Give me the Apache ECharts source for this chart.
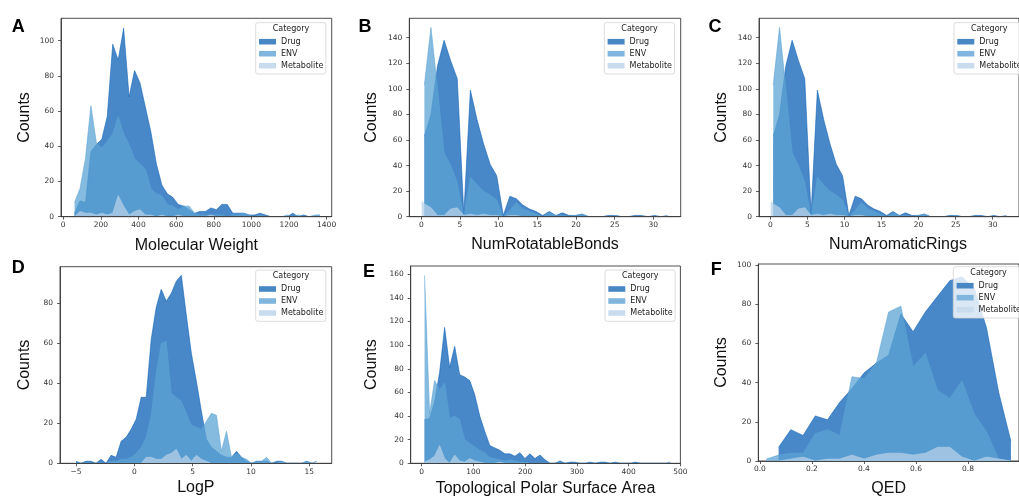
<!DOCTYPE html>
<html>
<head>
<meta charset="utf-8">
<script src="https://cdn.jsdelivr.net/npm/echarts@6/dist/echarts.min.js"></script>
<style>
  html, body { margin: 0; padding: 0; background: #ffffff; }
  #chart { width: 1019px; height: 499px; }
</style>
</head>
<body>
<div id="chart"></div>
<script>
// ---- categories ----
const categories = ['Drug', 'ENV', 'Metabolite'];

// ---- Molecular Weight (bin centres and counts) ----
const mwBins = [60, 89, 118, 147, 176, 205, 234, 263, 292, 321, 350, 379, 408, 437, 466, 495, 524, 553, 582, 611,
  640, 669, 698, 727, 756, 785, 814, 843, 872, 901, 930, 959, 988, 1017, 1046, 1075, 1104, 1133, 1162, 1191,
  1220, 1249, 1278, 1307, 1336, 1365];
const mwDrug = [2, 9, 8, 37, 41, 44, 57, 98, 89, 107, 68, 83, 76, 62, 48, 30, 18, 13, 11, 7,
  6, 4, 2, 3, 3, 5, 4, 7, 7, 2, 2, 2, 1, 1, 2, 1, 0, 0, 0, 0,
  2, 0, 1, 0, 0, 1];
const mwEnv = [8, 16, 33, 63, 42, 39, 43, 47, 57, 47, 41, 33, 30, 27, 16, 13, 12, 7, 6, 4,
  6, 6, 2, 1, 1, 1, 1, 1, 0, 1, 1, 2, 1, 0, 1, 0, 0, 0, 0, 1,
  0, 1, 0, 0, 1, 1];
const mwMet = [0, 3, 2, 2, 1, 2, 1, 2, 12, 6, 1, 3, 4, 1, 1, 0, 1, 0, 0, 1,
  0, 0, 0, 0, 0, 1, 0, 0, 0, 0, 0, 0, 0, 0, 0, 0, 0, 0, 0, 0,
  0, 0, 0, 0, 0, 0];

// ---- NumRotatableBonds ----
const rbBins = [0.05, 0.4, 1.25, 2.1, 2.95, 3.8, 4.65, 5.5, 6.35, 7.2, 8.05, 8.9, 9.75, 10.6, 11.45, 12.3, 13.15, 14.0, 14.85, 15.7, 16.55,
  17.4, 18.25, 19.1, 19.95, 20.8, 21.65, 22.5, 23.35, 24.2, 25.05, 25.9, 26.75, 27.6, 28.45, 29.3, 30.15, 31.0, 31.85];
const rbDrug = [null, 63, 80, 118, 138, 122, 108, 2, 99, 76, 57, 41, 32, 1, 16, 14, 9, 6, 4, 1, 4,
  1, 3, 1, 1, 2, 0, 0, 0, 1, 1, 0, 0, 1, 1, 0, 1, 0, 1];
const rbEnv = [null, 103, 148, 100, 50, 40, 27, 0, 31, 25, 20, 17, 13, 0, 5, 11, 6, 4, 2, 0, 3,
  1, 1, 0, 1, 2, 0, 0, 0, 0, 1, 0, 0, 0, 0, 0, 0, 0, 0];
const rbMet = [12, 10, 7, 1, 1, 6, 7, 1, 2, 1, 2, 1, 1, 0, 1, 1, 0, 0, 0, 0, 0,
  0, 0, 0, 0, 0, 0, 0, 0, 0, 0, 0, 0, 0, 0, 0, 0, 0, 0];

// ---- NumAromaticRings (same counts as the rotatable-bond panel) ----
const arBins = rbBins;
const arDrug = rbDrug;
const arEnv = rbEnv;
const arMet = rbMet;

// ---- LogP ----
const lpBins = [-5.0, -4.57, -4.14, -3.71, -3.28, -2.85, -2.42, -1.99, -1.56, -1.13, -0.70, -0.27, 0.16, 0.59, 1.02, 1.45, 1.88,
  2.31, 2.74, 3.17, 3.60, 4.03, 4.46, 4.89, 5.32, 5.75, 6.18, 6.61, 7.04, 7.47, 7.90, 8.33, 8.76, 9.19, 9.62,
  10.05, 10.48, 10.91, 11.34, 11.77, 12.20, 12.63, 13.06, 13.49, 13.92, 14.35, 14.78, 15.21, 15.64];
const lpDrug = [1, 0, 1, 1, 0, 2, 0, 4, 3, 11, 13, 17, 22, 33, 33, 62, 78,
  87, 81, 85, 91, 94, 74, 55, 41, 26, 12, 8, 6, 4, 3, 3, 6, 3, 1,
  0, 1, 1, 1, 0, 1, 1, 0, 0, 0, 0, 1, 0, 1];
const lpEnv = [0, 0, 0, 0, 0, 0, 0, 1, 1, 2, 2, 3, 5, 8, 13, 24, 45,
  60, 61, 35, 33, 31, 25, 19, 18, 17, 21, 25, 24, 6, 16, 3, 5, 3, 2,
  0, 1, 1, 3, 0, 0, 1, 0, 0, 0, 0, 1, 0, 0];
const lpMet = [0, 0, 0, 0, 0, 0, 0, 0, 0, 0, 0, 0, 0, 0, 3, 3, 2,
  2, 4, 5, 7, 2, 4, 1, 4, 2, 1, 0, 0, 0, 0, 0, 0, 0, 0,
  0, 0, 0, 0, 0, 0, 0, 0, 0, 0, 0, 0, 0, 0];

// ---- Topological Polar Surface Area ----
const tpBins = [5.5, 15.2, 24.9, 34.6, 44.3, 54.0, 63.7, 73.4, 83.1, 92.8, 102.5, 112.2, 121.9, 131.6, 141.3, 151.0, 160.7,
  170.4, 180.1, 189.8, 199.5, 209.2, 218.9, 228.6, 238.3, 248.0, 257.7, 267.4, 277.1, 286.8, 296.5, 306.2, 315.9,
  325.6, 335.3, 345.0, 354.7, 364.4, 374.1, 383.8, 393.5, 403.2, 412.9, 422.6, 432.3, 442.0, 451.7, 461.4, 471.1, 480.8];
const tpDrug = [37, 38, 52, 77, 115, 81, 99, 75, 73, 70, 58, 40, 27, 15, 13, 11, 8,
  8, 6, 9, 4, 8, 4, 7, 3, 0, 0, 2, 0, 1, 1, 0, 0,
  1, 0, 1, 1, 0, 1, 0, 0, 0, 1, 0, 0, 0, 0, 0, 0, 1];
const tpEnv = [159, 42, 70, 62, 68, 38, 40, 37, 20, 17, 14, 11, 9, 5, 4, 3, 2,
  3, 2, 1, 1, 0, 0, 0, 0, 0, 0, 0, 0, 0, 0, 0, 0,
  0, 0, 0, 0, 0, 0, 0, 0, 0, 0, 0, 0, 0, 0, 0, 0, 0];
const tpMet = [1, 3, 6, 15, 4, 0, 7, 2, 1, 4, 2, 1, 0, 0, 0, 1, 0,
  0, 0, 0, 0, 0, 0, 0, 0, 0, 0, 0, 0, 0, 0, 0, 0,
  0, 0, 0, 0, 0, 0, 0, 0, 0, 0, 0, 0, 0, 0, 0, 0, 0];

// ---- QED ----
const qdBins = [0.025, 0.072, 0.119, 0.166, 0.213, 0.260, 0.307, 0.354, 0.401, 0.448, 0.495,
  0.542, 0.589, 0.636, 0.683, 0.730, 0.777, 0.824, 0.871, 0.918, 0.965];
const qdDrug = [null, 7, 16, 13, 23, 21, 30, 37, 45, 50, 54, 75, 66, 76, 84, 92, 94, 88, 68, 35, 10];
const qdEnv = [1, 3, 4, 4, 14, 16, 13, 43, 42, 50, 76, 79, 48, 55, 36, 32, 41, 24, 15, 1, 0];
const qdMet = [0, 0, 1, 2, 0, 1, 1, 3, 1, 3, 4, 4, 3, 4, 7, 7, 2, 0, 2, 1, 0];

// ---- tick labels ----
const mwTicks = [0, 200, 400, 600, 800, 1000, 1200, 1400];
const rbTicks = [0, 5, 10, 15, 20, 25, 30];
const lpTicks = [-5, 0, 5, 10, 15];
const tpTicks = [0, 100, 200, 300, 400, 500];
const qdTicks = [0.0, 0.2, 0.4, 0.6, 0.8];
const countTicks100 = [0, 20, 40, 60, 80, 100];
const countTicks140 = [0, 20, 40, 60, 80, 100, 120, 140];
const countTicks80 = [0, 20, 40, 60, 80];
const countTicks160 = [0, 20, 40, 60, 80, 100, 120, 140, 160];

// ---- styling ----
const fillColors = ['#0a5fb5', '#5aa3d4', '#b8d1e8'];
const swatchColors = ['#4788c4', '#80b6de', '#c9dcee'];
const tickFont = 'DejaVu Sans';
const labelFont = 'Liberation Sans';
const minusSign = v => (v < 0 ? '\u2212' + Math.abs(v) : String(v));

const panels = [
  { letter: 'A', letterAt: [18.3, 27], xName: 'Molecular Weight', bins: mwBins, counts: [mwDrug, mwEnv, mwMet],
    grid: { left: 61, top: 18.3, width: 270.7, height: 198.4 }, xRange: [-12, 1427], yMax: 112.7,
    xTicks: mwTicks, yTicks: countTicks100, xGap: 21, yGap: 28, legendAt: [255.7, 22.7] },
  { letter: 'B', letterAt: [365, 27], xName: 'NumRotatableBonds', bins: rbBins, counts: [rbDrug, rbEnv, rbMet],
    grid: { left: 409.3, top: 18.3, width: 271.4, height: 198.4 }, xRange: [-1.55, 33.54], yMax: 155.2,
    xTicks: rbTicks, yTicks: countTicks140, xGap: 20, yGap: 29.8, legendAt: [604.3, 22.7] },
  { letter: 'C', letterAt: [715, 27], xName: 'NumAromaticRings', bins: arBins, counts: [arDrug, arEnv, arMet],
    grid: { left: 759, top: 18.3, width: 260.6, height: 198.4 }, xRange: [-1.52, 33.54], yMax: 155.2,
    xTicks: rbTicks, yTicks: countTicks140, xGap: 20, yGap: 29.5, legendAt: [954, 22.7], xNameShift: 18 },
  { letter: 'D', letterAt: [18.3, 268.3], xName: 'LogP', bins: lpBins, counts: [lpDrug, lpEnv, lpMet],
    grid: { left: 60, top: 266.7, width: 271.7, height: 196.6 }, xRange: [-6.37, 16.92], yMax: 98.3,
    xTicks: lpTicks, yTicks: countTicks80, xGap: 16.4, yGap: 27.5, legendAt: [255.7, 270], xFormat: minusSign },
  { letter: 'E', letterAt: [369, 271.7], xName: 'Topological Polar Surface Area', bins: tpBins, counts: [tpDrug, tpEnv, tpMet],
    grid: { left: 410.7, top: 266, width: 269.7, height: 197.3 }, xRange: [-21.3, 500], yMax: 167,
    xTicks: tpTicks, yTicks: countTicks160, xGap: 17.7, yGap: 31.2, legendAt: [605, 270] },
  { letter: 'F', letterAt: [716.3, 270.3], xName: 'QED', bins: qdBins, counts: [qdDrug, qdEnv, qdMet],
    grid: { left: 758.3, top: 264, width: 279, height: 197 }, xRange: [-0.006, 0.996], yMax: 100.5,
    xTicks: qdTicks, yTicks: countTicks100, xGap: 20, yGap: 28.8, legendAt: [953.3, 266.7], xFormat: v => v.toFixed(1) }
];

const option = {
  animation: false,
  backgroundColor: '#ffffff',
  grid: [], xAxis: [], yAxis: [], series: [], legend: [], graphic: []
};

panels.forEach((p, i) => {
  option.grid.push(Object.assign({ show: true, borderColor: '#3a3a3a', borderWidth: 0.9, containLabel: false }, p.grid));

  option.xAxis.push({
    type: 'value', gridIndex: i, min: p.xRange[0], max: p.xRange[1], z: 5,
    name: p.xName, nameLocation: 'middle', nameGap: p.xGap,
    nameTextStyle: { fontFamily: labelFont, fontSize: 16, color: '#111',
      padding: [0, 0, 0, p.xNameShift || 0] },
    axisLine: { show: true, onZero: false, lineStyle: { color: '#3a3a3a', width: 0.9 } },
    splitLine: { show: false },
    axisTick: { show: true, length: 3, customValues: p.xTicks, lineStyle: { color: '#3a3a3a', width: 0.8 } },
    axisLabel: { customValues: p.xTicks, margin: 4.5, fontFamily: tickFont, fontSize: 7.5, color: '#333',
      formatter: p.xFormat || (v => String(v)) }
  });

  option.yAxis.push({
    type: 'value', gridIndex: i, min: 0, max: p.yMax, z: 5,
    name: 'Counts', nameLocation: 'middle', nameGap: p.yGap,
    nameTextStyle: { fontFamily: labelFont, fontSize: 16, color: '#111' },
    axisLine: { show: true, onZero: false, lineStyle: { color: '#3a3a3a', width: 0.9 } },
    splitLine: { show: false },
    axisTick: { show: true, length: 3, customValues: p.yTicks, lineStyle: { color: '#3a3a3a', width: 0.8 } },
    axisLabel: { customValues: p.yTicks, margin: 7, fontFamily: tickFont, fontSize: 7.5, color: '#333' }
  });

  categories.forEach((name, k) => {
    option.series.push({
      type: 'line', name: name, xAxisIndex: i, yAxisIndex: i,
      data: p.bins.map((x, j) => [x, p.counts[k][j]]),
      symbol: 'none', smooth: false, silent: true, connectNulls: false, z: 2 + k,
      itemStyle: { color: swatchColors[k] },
      lineStyle: { color: fillColors[k], width: 0.8, opacity: 0.7 },
      areaStyle: { color: fillColors[k], opacity: 0.74 }
    });
  });

  option.legend.push({
    show: true, orient: 'vertical', left: p.legendAt[0], top: p.legendAt[1],
    padding: [14, 2.5, 3.3, 3.3], itemGap: 2, itemWidth: 17, itemHeight: 5.6, itemTextGap: 6,
    icon: 'rect', selectedMode: false,
    backgroundColor: 'rgba(255,255,255,0.8)', borderColor: '#d3d3d3', borderWidth: 0.8, borderRadius: 2,
    itemStyle: { borderWidth: 0 },
    textStyle: { fontFamily: tickFont, fontSize: 8, color: '#222', lineHeight: 10 },
    data: categories.map((name, k) => ({ name: name, itemStyle: { color: swatchColors[k] } }))
  });

  option.graphic.push({
    type: 'text', z: 100, left: p.legendAt[0] + 17, top: p.legendAt[1] + 2.2,
    style: { text: 'Category', fontFamily: tickFont, fontSize: 8, fill: '#222' }
  });

  option.graphic.push({
    type: 'text', z: 100, x: p.letterAt[0], y: p.letterAt[1],
    style: { text: p.letter, fontFamily: labelFont, fontWeight: 'bold', fontSize: 18, fill: '#000',
      align: 'center', verticalAlign: 'middle' }
  });
});

const chart = echarts.init(document.getElementById('chart'), null, { renderer: 'canvas' });
chart.setOption(option);
</script>
</body>
</html>
